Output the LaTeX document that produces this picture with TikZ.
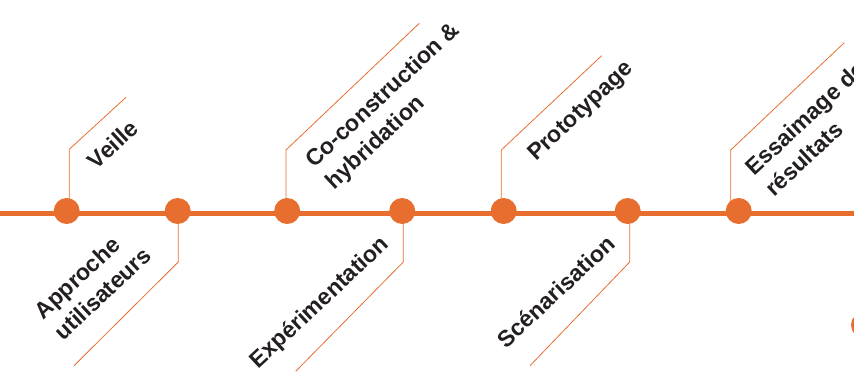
\documentclass[tikz,border=0pt]{standalone}
\usepackage{fontspec}
\setmainfont{Liberation Sans}
\usepackage{tikz}
\usetikzlibrary{positioning}
\definecolor{orange}{RGB}{232,110,48}
\definecolor{ink}{RGB}{35,31,32}
\tikzstyle{spine} = [orange,line width=4.5pt]
\tikzstyle{callout} = [orange,line width=0.8pt]

\begin{document}
\begin{tikzpicture}[x=1pt,y=1pt,node distance=111pt,
    dot/.style={circle,fill=orange,minimum size=26pt,inner sep=0pt},
    lbl/.style={rotate=43,inner sep=0pt,align=left,text=ink,
      font=\bfseries\fontsize{23}{29}\selectfont}]
        \useasboundingbox (0,0) rectangle (854,372);
        \clip (0,0) rectangle (854,372);
        \coordinate (l) at (0,158.5);
        \coordinate (r) at (854,158.5);
        \draw[spine] (l) -- (r);
        % bends and free ends of the callouts
        \coordinate (k1) at (69.3,222.7);  \coordinate (e1) at (126,274.7);
        \coordinate (k2) at (178.3,110);   \coordinate (e2) at (74,6.3);
        \coordinate (k3) at (286,222);     \coordinate (e3) at (419.3,348.7);
        \coordinate (k4) at (403.3,110);   \coordinate (e4) at (295.7,0.7);
        \coordinate (k5) at (501.3,222);   \coordinate (e5) at (601.7,316.3);
        \coordinate (k6) at (629.7,110);   \coordinate (e6) at (530,6.3);
        \coordinate (k7) at (730.7,222);   \coordinate (e7) at (844.3,329.3);
        \node[dot] (1) at (66.7,161) {};
        \node[dot, right of=1] (2) {};
        \node[dot, right of=2, xshift=-1.5pt] (3) {};
        \node[dot, right of=3, xshift=4pt] (4) {};
        \node[dot, right of=4, xshift=-9.5pt] (5) {};
        \node[dot, right of=5, xshift=13pt] (6) {};
        \node[dot, right of=6] (7) {};
        \node[dot] (8) at (864,47) {};
        \foreach \i in {1,...,7}
          \draw[callout] (k\i |- \i.center) -- (k\i) -- (e\i);
        \node[lbl, anchor=north west] (t1) at ([shift={(16pt,-9pt)}]k1) {Veille};
        \node[lbl, anchor=south east] (t2) at ([shift={(-25pt,4pt)}]k2) {Approche\\utilisateurs};
        \node[lbl, anchor=north west] (t3) at ([shift={(16.7pt,-6.7pt)}]k3) {Co-construction \&\\hybridation};
        \node[lbl, anchor=base east] (t4) at ([shift={(-13pt,16pt)}]k4) {Expérimentation};
        \node[lbl, anchor=north west] (t5) at ([shift={(23.7pt,0pt)}]k5) {Prototypage};
        \node[lbl, anchor=base east] (t6) at ([shift={(-13pt,16pt)}]k6) {Scénarisation};
        \node[lbl, anchor=north west] (t7) at ([shift={(12.3pt,-14pt)}]k7) {Essaimage des\\résultats};
      \end{tikzpicture}
\end{document}
